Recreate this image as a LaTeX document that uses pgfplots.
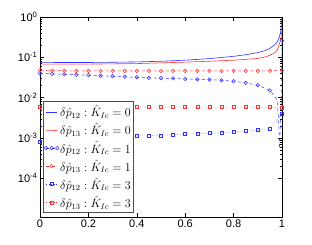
\documentclass[border=0pt]{standalone}
\usepackage{fontspec}
\setmainfont{Liberation Sans}
\usepackage{pgfplots}
\pgfplotsset{compat=1.18}
\definecolor{mblue}{RGB}{50,50,255}
\definecolor{mred}{RGB}{255,50,50}
\begin{document}
\begin{tikzpicture}
\begin{axis}[
  name=ax,
  scale only axis,
  width=242pt, height=200pt,
  xmin=0, xmax=1,
  ymode=log, ymin=1.1e-5, ymax=1,
  xtick={0,0.2,0.4,0.6,0.8,1},
  xticklabels={0,0.2,0.4,0.6,0.8,1},
  ytick={1e-4,1e-3,1e-2,1e-1,1},
  yticklabels={10\textsuperscript{-4},10\textsuperscript{-3},10\textsuperscript{-2},10\textsuperscript{-1},10\textsuperscript{0}},
  tick align=inside,
  tick pos=both,
  major tick length=4pt,
  minor tick length=2pt,
  every tick/.style={black, line width=0.4pt},
  axis line style={black, line width=0.5pt},
  ticklabel style={font=\fontsize{11}{12}\selectfont},
  xticklabel style={yshift=1pt},
  yticklabel style={xshift=1pt},
  /pgf/number format/assume math mode=true,
  legend style={at={(rel axis cs:0.012,0.02)}, anchor=south west,
    draw=black!70, fill=white, line width=0.6pt,
    font=\fontsize{11.5}{13}\selectfont, legend cell align=left,
    row sep=1.2pt, inner xsep=1pt, inner ysep=2pt,
    nodes={inner xsep=1pt}},
  legend image code/.code={\draw[mark repeat=2,mark phase=2] plot coordinates {(0cm,0cm)(0.2cm,0cm)(0.4cm,0cm)};},
]
% K=0, p12
\addplot[mblue, line width=0.6pt] coordinates {
(0,0.075)(0.1,0.0745)(0.2,0.0745)(0.3,0.0755)(0.4,0.077)(0.5,0.080)(0.6,0.085)(0.7,0.093)(0.8,0.106)(0.85,0.116)(0.9,0.131)(0.93,0.147)(0.95,0.166)(0.97,0.205)(0.98,0.24)(0.99,0.33)(0.995,0.46)(1,1.0)};
\addlegendentry{$\delta\hat p_{12}:\hat K_{Ic}=0$}
% K=0, p13
\addplot[mred, line width=0.6pt] coordinates {
(0,0.068)(0.1,0.068)(0.2,0.068)(0.3,0.069)(0.4,0.070)(0.5,0.073)(0.6,0.076)(0.7,0.080)(0.8,0.085)(0.85,0.089)(0.9,0.094)(0.93,0.102)(0.95,0.113)(0.97,0.130)(0.98,0.150)(0.99,0.22)(0.995,0.30)(1,0.47)};
\addlegendentry{$\delta\hat p_{13}:\hat K_{Ic}=0$}
% K=1, p12
\addplot[mblue, dashed, line width=0.5pt, mark=o, mark size=1.8pt,
  mark options={solid},
  mark indices={1,2,3,4,5,6,7,8,9,10,11,12,13,14,15,16,17,18,19,20,27}] coordinates {
(0,0.040)(0.05,0.039)(0.1,0.038)(0.15,0.037)(0.2,0.036)(0.25,0.035)(0.3,0.034)(0.35,0.033)(0.4,0.032)(0.45,0.031)(0.5,0.0305)(0.55,0.030)(0.6,0.029)(0.65,0.0285)(0.7,0.028)(0.75,0.027)(0.8,0.0256)(0.85,0.0233)(0.9,0.0204)(0.95,0.0152)
(0.96,0.0128)(0.97,0.0106)(0.98,0.0087)(0.985,0.0035)(0.99,0.00055)(0.997,0.01)(1,0.26)};
\addlegendentry{$\delta\hat p_{12}:\hat K_{Ic}=1$}
% K=1, p13
\addplot[mred, dashed, line width=0.5pt, mark=o, mark size=1.8pt, mark options={solid}] coordinates {
(0,0.048)(0.05,0.047)(0.1,0.0465)(0.15,0.046)(0.2,0.046)(0.25,0.046)(0.3,0.046)(0.35,0.046)(0.4,0.046)(0.45,0.046)(0.5,0.046)(0.55,0.046)(0.6,0.046)(0.65,0.046)(0.7,0.046)(0.75,0.046)(0.8,0.046)(0.85,0.046)(0.9,0.046)(0.95,0.0465)(1,0.047)};
\addlegendentry{$\delta\hat p_{13}:\hat K_{Ic}=1$}
% K=3, p12
\addplot[mblue, dotted, line width=0.5pt, mark=square, mark size=1.5pt, mark options={solid}] coordinates {
(0,0.00083)(0.05,0.00088)(0.1,0.00093)(0.15,0.00097)(0.2,0.00100)(0.25,0.00103)(0.3,0.00106)(0.35,0.00109)(0.4,0.00112)(0.45,0.00114)(0.5,0.00116)(0.55,0.00120)(0.6,0.00125)(0.65,0.00128)(0.7,0.00132)(0.75,0.00136)(0.8,0.00142)(0.85,0.00148)(0.9,0.00156)(0.95,0.00168)(1,0.0039)};
\addlegendentry{$\delta\hat p_{12}:\hat K_{Ic}=3$}
% K=3, p13
\addplot[mred, dotted, line width=0.5pt, mark=square, mark size=1.5pt, mark options={solid}] coordinates {
(0,0.0058)(0.05,0.0058)(0.1,0.0058)(0.15,0.0058)(0.2,0.0058)(0.25,0.0058)(0.3,0.0058)(0.35,0.0058)(0.4,0.0058)(0.45,0.0058)(0.5,0.0058)(0.55,0.0058)(0.6,0.0058)(0.65,0.0058)(0.7,0.0058)(0.75,0.0058)(0.8,0.0058)(0.85,0.0058)(0.9,0.0058)(0.95,0.0058)(1,0.0056)};
\addlegendentry{$\delta\hat p_{13}:\hat K_{Ic}=3$}
\end{axis}
\pgfresetboundingbox
\path[use as bounding box] ([xshift=-40pt,yshift=-27pt]ax.south west) rectangle ([xshift=30pt,yshift=17pt]ax.north east);
\end{tikzpicture}
\end{document}
